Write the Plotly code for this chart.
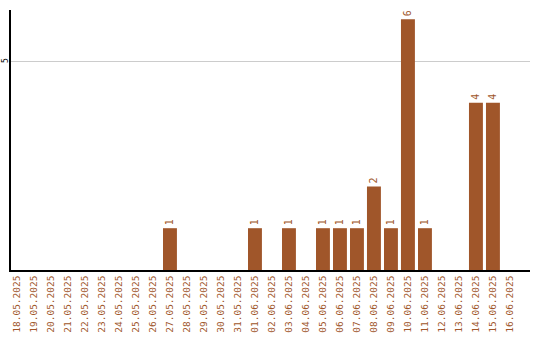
import plotly.graph_objects as go

dates = ["18.05.2025", "19.05.2025", "20.05.2025", "21.05.2025", "22.05.2025",
         "23.05.2025", "24.05.2025", "25.05.2025", "26.05.2025", "27.05.2025",
         "28.05.2025", "29.05.2025", "30.05.2025", "31.05.2025", "01.06.2025",
         "02.06.2025", "03.06.2025", "04.06.2025", "05.06.2025", "06.06.2025",
         "07.06.2025", "08.06.2025", "09.06.2025", "10.06.2025", "11.06.2025",
         "12.06.2025", "13.06.2025", "14.06.2025", "15.06.2025", "16.06.2025"]
counts = [0, 0, 0, 0, 0, 0, 0, 0, 0, 1,
          0, 0, 0, 0, 1, 0, 1, 0, 1, 1,
          1, 2, 1, 6, 1, 0, 0, 4, 4, 0]
y_ticks = [5]

color = "#A0562A"
labels = [str(v) if v > 0 else "" for v in counts]

fig = go.Figure(go.Bar(
    x=dates, y=counts, marker_color=color, marker_line_width=0,
    text=labels, textposition="outside", textangle=-90,
    textfont=dict(family="DejaVu Sans Mono", size=10, color=color),
    cliponaxis=False,
))

fig.update_layout(
    width=540, height=340,
    margin=dict(l=11, r=10, t=10, b=70, autoexpand=False),
    paper_bgcolor="white", plot_bgcolor="white",
    bargap=0.18, showlegend=False,
    xaxis=dict(type="category", range=[-0.35, 30.18], tickangle=-90,
               automargin=False,
               showline=True, linecolor="black", linewidth=1.5,
               showgrid=False, ticks="",
               tickfont=dict(family="DejaVu Sans Mono", size=9.5, color=color)),
    yaxis=dict(range=[0, 6.22], tickvals=y_ticks, showticklabels=False,
               automargin=False,
               showline=True, linecolor="black", linewidth=1.5,
               showgrid=True, gridcolor="#cccccc", gridwidth=1,
               zeroline=False, ticks=""),
)

for t in y_ticks:
    fig.add_annotation(x=0, xref="paper", y=t, yref="y", text=str(t),
                       showarrow=False, textangle=-90, xanchor="center",
                       xshift=-6, borderpad=0,
                       font=dict(family="DejaVu Sans Mono", size=8, color="black"))

fig.write_html("out.html")
